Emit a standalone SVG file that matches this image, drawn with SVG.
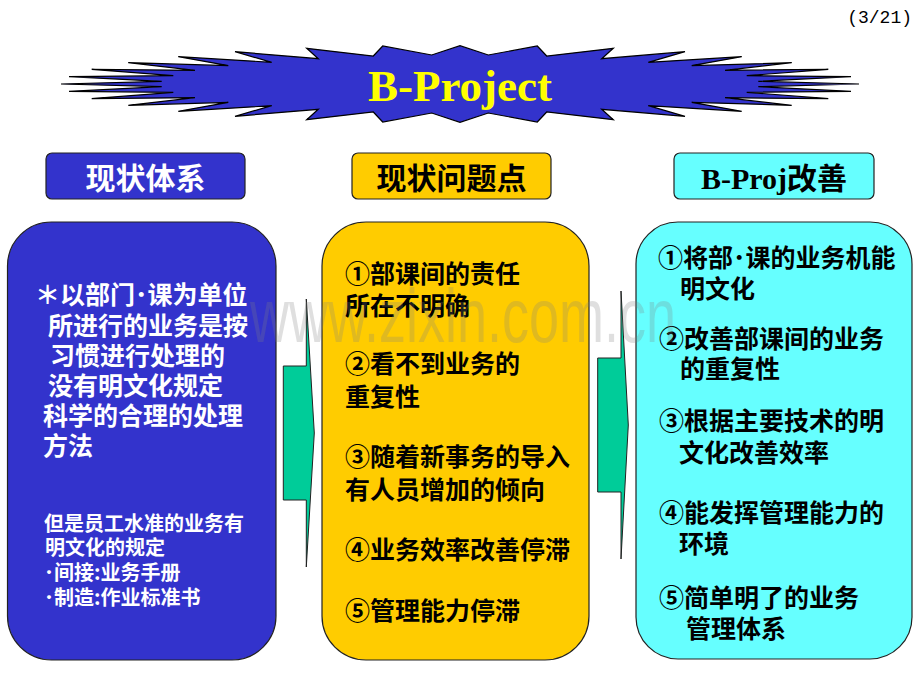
<svg xmlns="http://www.w3.org/2000/svg" width="920" height="690" viewBox="0 0 920 690">
<style>
.cjk{font-family:"Noto Sans CJK SC","Noto Sans CJK JP",sans-serif;font-weight:bold}
.hd{font-size:30px}
.bd{font-size:25px}
.sm{font-size:20px}
.w{fill:#FFFFFF}
.k{fill:#000000}
.box{stroke:#222222;stroke-width:1.2}
.blue{fill:#3333CC}
.yel{fill:#FFCC00}
.cyan{fill:#66FFFF}
.arrow{fill:#00CC99;stroke:#222222;stroke-width:1}
</style>
<rect width="920" height="690" fill="#FFFFFF"/>
<text x="912" y="23" text-anchor="end" font-family="Liberation Mono, monospace" font-size="18" fill="#000000">(3/21)</text>
<g id="title">
<polygon fill="#3333CC" stroke="#000000" stroke-width="1.2" stroke-linejoin="miter" points="61,84 161.7,81.3 69,76.7 173.3,75.7 91.7,69.3 195,70.3 128.3,62.7 228.3,65.7 178.3,56.7 271.7,62.3 235,51.7 318.3,58.7 306.7,48.3 373.3,56 382.7,46 431.7,55 460,45.7 488.3,55 537.3,46 546.7,56 613.3,48.3 601.7,58.7 685,51.7 648.3,62.3 741.7,56.7 691.7,65.7 791.7,62.7 725,70.3 828.3,69.3 746.7,75.7 851,76.7 758.3,81.3 859,84 758.3,86.7 851,91.3 746.7,92.3 828.3,98.7 725,97.7 791.7,105.3 691.7,102.3 741.7,111.3 648.3,105.7 685,116.3 601.7,109.3 613.3,119.7 546.7,112 537.3,122 488.3,113 460,122.3 431.7,113 382.7,122 373.3,112 306.7,119.7 318.3,109.3 235,116.3 271.7,105.7 178.3,111.3 228.3,102.3 128.3,105.3 195,97.7 91.7,98.7 173.3,92.3 69,91.3 161.7,86.7"/>
<text x="460" y="101" text-anchor="middle" font-family="Liberation Serif, serif" font-weight="bold" font-size="45" fill="#FFFF00">B-Project</text>
</g>
<g id="header-current">
<rect class="box blue" x="46" y="153" width="199" height="46" rx="6"/>
<text class="cjk hd w" x="145.5" y="189" text-anchor="middle">现状体系</text>
</g>
<g id="header-problems">
<rect class="box yel" x="352" y="153" width="199" height="46" rx="6"/>
<text class="cjk hd k" x="451.5" y="189" text-anchor="middle">现状问题点</text>
</g>
<g id="header-improve">
<rect class="box cyan" x="674" y="153" width="200" height="46" rx="6"/>
<text class="hd k" x="774" y="189" text-anchor="middle" font-weight="bold"><tspan font-family="Liberation Serif, serif">B-Proj</tspan><tspan font-family="Noto Sans CJK SC, sans-serif">改善</tspan></text>
</g>
<g id="box-current">
<rect class="box blue" x="7.5" y="222" width="268.5" height="438" rx="44"/>
<g class="cjk bd w">
<text x="35" y="303.5">＊以部门･课为单位</text>
<text x="48" y="334.5">所进行的业务是按</text>
<text x="50" y="364.5">习惯进行处理的</text>
<text x="48" y="394.5">没有明文化规定</text>
<text x="43" y="424.5">科学的合理的处理</text>
<text x="43" y="454.5">方法</text>
</g>
<g class="cjk sm w">
<text x="44" y="530.6">但是员工水准的业务有</text>
<text x="45" y="554.6">明文化的规定</text>
<text x="44" y="579.6">･间接:业务手册</text>
<text x="44" y="604.6">･制造:作业标准书</text>
</g>
</g>
<g id="box-problems">
<rect class="box yel" x="322" y="222" width="267" height="438" rx="44"/>
<g class="cjk bd k">
<text x="345" y="282.5">①部课间的责任</text>
<text x="345" y="314.5">所在不明确</text>
<text x="345" y="373">②看不到业务的</text>
<text x="345" y="406">重复性</text>
<text x="345" y="466">③随着新事务的导入</text>
<text x="345" y="498.5">有人员增加的倾向</text>
<text x="345" y="558.5">④业务效率改善停滞</text>
<text x="345" y="619.5">⑤管理能力停滞</text>
</g>
</g>
<g id="box-improve">
<rect class="box cyan" x="636" y="222" width="276" height="437" rx="42"/>
<g class="cjk bd k">
<text x="658" y="266.5">①将部･课的业务机能</text>
<text x="680" y="297.5">明文化</text>
<text x="659" y="347.5">②改善部课间的业务</text>
<text x="680" y="377.5">的重复性</text>
<text x="659" y="429.5">③根据主要技术的明</text>
<text x="679" y="461.5">文化改善效率</text>
<text x="659" y="521.5">④能发挥管理能力的</text>
<text x="679" y="552.5">环境</text>
<text x="659" y="606.5">⑤简单明了的业务</text>
<text x="686" y="637.5">管理体系</text>
</g>
</g>
<g id="connectors">
<polygon class="arrow" points="283.3,366 306.3,366 306.3,299 314.3,433 306.3,567 306.3,500 283.3,500"/>
<polygon class="arrow" points="597.7,358 621,358 621,291 628.3,425 621,559 621,492 597.7,492"/>
</g>
<text transform="translate(250,342) scale(1,1.4)" x="0" y="0" font-family="Liberation Sans, sans-serif" font-size="54" fill="#808080" fill-opacity="0.25">www.zixin.com.cn</text>
</svg>
